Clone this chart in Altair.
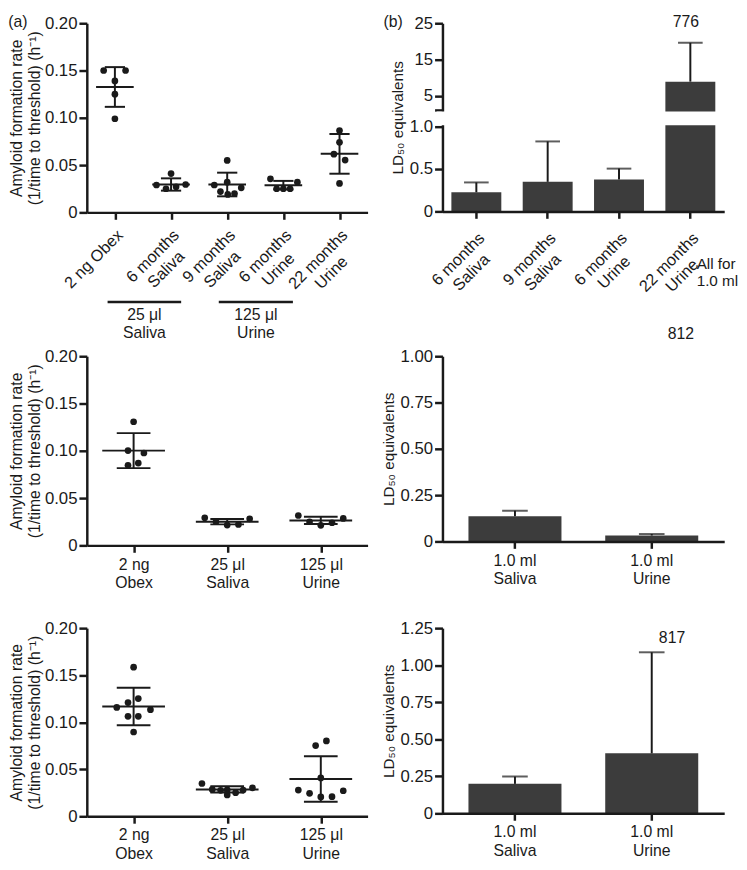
import json
import altair as alt
import pandas as pd

FONT = "Liberation Sans"
INK = "#1a1a1a"
BAR_FILL = "#3c3c3c"

RATE_TITLE = ["Amyloid formation rate", "(1/time to threshold) (h⁻¹)"]
LD_TITLE = "LD₅₀ equivalents"

# ---------------- data ----------------
# (a) row 1: amyloid formation rate per replicate
A1_GROUPS = ["2 ng Obex", "6 months|Saliva", "9 months|Saliva", "6 months|Urine", "22 months|Urine"]
A1_VALUES = [
    [0.150, 0.150, 0.139, 0.125, 0.099],
    [0.041, 0.029, 0.025, 0.027, 0.0295],
    [0.055, 0.029, 0.032, 0.026, 0.022, 0.019, 0.020],
    [0.0355, 0.032, 0.025, 0.025, 0.025],
    [0.0866, 0.0741, 0.0616, 0.0553, 0.0306],
]
A1_SPREAD = [
    [-0.20, 0.19, 0.0, 0.0, 0.0],
    [0.0, -0.26, -0.09, 0.09, 0.26],
    [0.0, -0.23, 0.0, 0.25, -0.12, 0.01, 0.13],
    [-0.23, 0.25, -0.12, 0.0, 0.12],
    [0.0, 0.0, -0.10, 0.10, 0.0],
]
A1_MEAN = [0.1326, 0.0295, 0.0295, 0.0288, 0.0619]
A1_SD = [0.0210, 0.0065, 0.0125, 0.0045, 0.0210]
A1_BRACKETS = ["25 μl\nSaliva", "125 μl\nUrine"]

# (b) row 1: LD50 equivalents (mean and upper error)
B1_GROUPS = ["6 months|Saliva", "9 months|Saliva", "6 months|Urine", "22 months|Urine"]
B1_MEAN = [0.226, 0.349, 0.377, 8.9]
B1_UPPER = [0.342, 0.826, 0.505, 19.6]

# row 2
A2_GROUPS = ["2 ng|Obex", "25 μl|Saliva", "125 μl|Urine"]
A2_VALUES = [
    [0.1307, 0.1002, 0.0977, 0.0846, 0.0870],
    [0.0291, 0.0250, 0.0215, 0.0222, 0.0281],
    [0.0316, 0.0250, 0.0212, 0.0239, 0.0285],
]
A2_SPREAD = [
    [0.0, -0.06, 0.11, -0.06, 0.05],
    [-0.24, -0.12, 0.0, 0.12, 0.24],
    [-0.24, -0.12, 0.0, 0.12, 0.24],
]
A2_MEAN = [0.1002, 0.0250, 0.0264]
A2_SD = [0.0185, 0.0028, 0.0038]

B2_GROUPS = ["1.0 ml|Saliva", "1.0 ml|Urine"]
B2_MEAN = [0.136, 0.032]
B2_UPPER = [0.166, 0.040]

# row 3
A3_GROUPS = ["2 ng|Obex", "25 μl|Saliva", "125 μl|Urine"]
A3_VALUES = [
    [0.1585, 0.1251, 0.1209, 0.1157, 0.1133, 0.1063, 0.1063, 0.0896],
    [0.0349, 0.0286, 0.0276, 0.0227, 0.0251, 0.0279, 0.0303, 0.0280],
    [0.0752, 0.0801, 0.0408, 0.0279, 0.0244, 0.0206, 0.0209, 0.0272],
]
A3_SPREAD = [
    [0.0, 0.05, -0.06, -0.18, 0.18, -0.06, 0.05, 0.0],
    [-0.27, -0.16, -0.07, 0.0, 0.09, 0.17, 0.27, 0.0],
    [-0.055, 0.06, 0.0, -0.24, -0.12, 0.0, 0.12, 0.24],
]
A3_MEAN = [0.1167, 0.0286, 0.0397]
A3_SD = [0.0200, 0.0033, 0.0242]

B3_GROUPS = ["1.0 ml|Saliva", "1.0 ml|Urine"]
B3_MEAN = [0.199, 0.405]
B3_UPPER = [0.248, 1.087]

ANIMAL_IDS = ["776", "812", "817"]

# ---------------- layout constants ----------------
W_LEFT = 285
W_RIGHT = 286
MEAN_HALF = 0.335
CAP_HALF = 0.18
BRACKET_FROM = [-0.13, 1.85]
BRACKET_TO = [1.18, 3.17]
ROT_SIZE = 16.5

ZERO_OR_2F = "datum.value == 0 ? '0' : format(datum.value, '.2f')"

# Arial / Liberation Sans advance widths (em) used to right-anchor rotated labels
CHAR_W = {" ": .278, "0": .556, "1": .556, "2": .556, "5": .556, "6": .556, "9": .556,
          "O": .778, "S": .667, "U": .722, "a": .556, "b": .556, "e": .556, "g": .556,
          "h": .556, "i": .222, "l": .222, "m": .833, "n": .556, "o": .556, "r": .333,
          "s": .5, "t": .278, "v": .5, "x": .5, "μ": .576}


def text_width(s, size):
    return sum(CHAR_W.get(c, 0.556) for c in s) * size


def text_layer(txt, x, y, size=16, align="center", baseline="middle"):
    return alt.Chart(pd.DataFrame({"t": [txt]})).mark_text(
        font=FONT, fontSize=size, color=INK, align=align, baseline=baseline,
        lineBreak="\n", lineHeight=18,
    ).encode(text="t:N", x=alt.value(x), y=alt.value(y))


def rotated_labels(groups, field, scale, y_local):
    """Category labels rotated 45°, lines centred, block ending at the tick."""
    out = []
    for i, g in enumerate(groups):
        w = max(text_width(line, ROT_SIZE) for line in g.split("|"))
        df = pd.DataFrame({"g": [g], "i": [i]})
        enc_x = alt.X("i:Q", scale=scale) if field == "i" else alt.X("g:N", scale=scale)
        out.append(alt.Chart(df).mark_text(
            font=FONT, fontSize=ROT_SIZE, color=INK, angle=315, align="center",
            baseline="top", lineBreak="|", lineHeight=19, dx=-w / 2,
        ).encode(x=enc_x, y=alt.value(y_local), text="g:N"))
    return out


def rate_panel(groups, values, spread, means, sds, view_h, plot_h, rotated,
               x_offset, brackets=False, extras=()):
    n = len(groups)
    pts = pd.DataFrame([
        {"pos": i + s, "rate": v}
        for i, (vs, ss) in enumerate(zip(values, spread))
        for v, s in zip(vs, ss)
    ])
    st = pd.DataFrame({
        "i": list(range(n)),
        "mean": means,
        "lo": [m - s for m, s in zip(means, sds)],
        "hi": [m + s for m, s in zip(means, sds)],
    })
    st["m1"] = st["i"] - MEAN_HALF
    st["m2"] = st["i"] + MEAN_HALF
    st["c1"] = st["i"] - CAP_HALF
    st["c2"] = st["i"] + CAP_HALF

    xs = alt.Scale(domain=[-0.5, n - 0.5], nice=False, zero=False)
    ys = alt.Scale(domain=[0, 0.2], range=[plot_h, 0], nice=False, zero=False)
    names = json.dumps(groups, ensure_ascii=False)
    x_axis = alt.Axis(
        title=None, values=list(range(n)),
        labelExpr=f"split({names}[datum.value], '|')", labels=not rotated,
        offset=x_offset, labelFlush=False, labelOverlap=False,
        labelAngle=0, labelAlign="center", labelBaseline="top", labelPadding=4,
    )
    y_axis = alt.Axis(
        title=RATE_TITLE, values=[0, 0.05, 0.10, 0.15, 0.20], labelExpr=ZERO_OR_2F,
        titlePadding=2, titleLineHeight=18, titleFontSize=16, labelOverlap=False,
    )
    pts_layer = alt.Chart(pts).mark_circle(size=46, color=INK, opacity=1).encode(
        x=alt.X("pos:Q", scale=xs, axis=x_axis),
        y=alt.Y("rate:Q", scale=ys, axis=y_axis),
    )
    stat = alt.Chart(st)
    rule = dict(color=INK, strokeWidth=2)
    mean_l = stat.mark_rule(**rule).encode(
        x=alt.X("m1:Q", scale=xs), x2="m2:Q",
        y=alt.Y("mean:Q", scale=ys))
    sd_l = stat.mark_rule(**rule).encode(
        x=alt.X("i:Q", scale=xs),
        y=alt.Y("lo:Q", scale=ys), y2="hi:Q")
    cap_hi = stat.mark_rule(**rule).encode(
        x=alt.X("c1:Q", scale=xs), x2="c2:Q",
        y=alt.Y("hi:Q", scale=ys))
    cap_lo = stat.mark_rule(**rule).encode(
        x=alt.X("c1:Q", scale=xs), x2="c2:Q",
        y=alt.Y("lo:Q", scale=ys))
    layers = [pts_layer, mean_l, sd_l, cap_hi, cap_lo]
    if rotated:
        layers.extend(rotated_labels(groups, "i", xs, plot_h + 15))
    if brackets:
        br = pd.DataFrame({"label": A1_BRACKETS, "x1": BRACKET_FROM, "x2": BRACKET_TO})
        br["xm"] = (br["x1"] + br["x2"]) / 2
        layers.append(alt.Chart(br).mark_rule(color=INK, strokeWidth=2.5).encode(
            x=alt.X("x1:Q", scale=xs), x2="x2:Q", y=alt.value(283)))
        layers.append(alt.Chart(br).mark_text(
            font=FONT, fontSize=16, color=INK, baseline="top", lineBreak="\n",
            lineHeight=19).encode(
            x=alt.X("xm:Q", scale=xs), y=alt.value(288), text="label:N"))
    layers.extend(extras)
    return alt.layer(*layers).properties(width=W_LEFT, height=view_h)


def ld_panel(groups, means, upper, view_h, yscale, yvalues, ylabel_expr, yformat,
             rotated, x_offset, pad_in, pad_out, cap, plot_h, gap=None, extras=()):
    df = pd.DataFrame({"g": groups, "mean": means, "upper": upper})
    xs = alt.Scale(domain=groups, paddingInner=pad_in, paddingOuter=pad_out)
    x_axis = alt.Axis(title=None, labelExpr="split(datum.label, '|')", offset=x_offset,
                      zindex=1, labelOverlap=False, labels=not rotated, labelAngle=0,
                      labelAlign="center", labelBaseline="top", labelPadding=4)
    y_axis = alt.Axis(title=LD_TITLE, values=yvalues, labelExpr=ylabel_expr, format=yformat,
                      titlePadding=4, titleFontSize=15.5, labelOverlap=False,
                      labelSeparation=0, tickCount=len(yvalues))
    bars = alt.Chart(df).mark_bar(color=BAR_FILL).encode(
        x=alt.X("g:N", scale=xs, axis=x_axis),
        y=alt.Y("mean:Q", scale=yscale, axis=y_axis),
        y2=alt.Y2Datum(0),
    )
    err = alt.Chart(df).mark_rule(color=INK, strokeWidth=2).encode(
        x=alt.X("g:N", scale=xs),
        y=alt.Y("mean:Q", scale=yscale), y2="upper:Q")
    caps = alt.Chart(df).mark_tick(color=INK, thickness=2, size=cap).encode(
        x=alt.X("g:N", scale=xs),
        y=alt.Y("upper:Q", scale=yscale))
    layers = [bars, err, caps]
    if gap is not None:
        layers.append(alt.Chart(pd.DataFrame({"k": [0]})).mark_rect(
            color="white", yOffset=-1.5, y2Offset=1.5).encode(
            x=alt.value(-6), x2=alt.value(W_RIGHT),
            y=alt.YDatum(gap[0]), y2=alt.Y2Datum(gap[1])))
    if rotated:
        layers.extend(rotated_labels(groups, "g", xs, plot_h + 19))
    layers.extend(extras)
    return alt.layer(*layers).properties(width=W_RIGHT, height=view_h)


# ---------------- panels ----------------
a1 = rate_panel(A1_GROUPS, A1_VALUES, A1_SPREAD, A1_MEAN, A1_SD, view_h=254, plot_h=192,
                rotated=True, x_offset=-62, brackets=True,
                extras=[text_layer("(a)", -70, -1)])

b1_scale = alt.Scale(domain=[0, 1, 1.1, 25], range=[191, 105, 88, 0], nice=False, zero=False)
b1 = ld_panel(B1_GROUPS, B1_MEAN, B1_UPPER, 254, b1_scale, [0, 0.5, 1, 1.1, 5, 15, 25],
              "datum.value == 1.1 ? '' : (datum.value == 1 ? '1.0' : datum.label)", ".1~f",
              True, -63, 0.3, 0.125, 25, plot_h=191, gap=(1.0, 1.1),
              extras=[text_layer("(b)", -50, -1),
                      text_layer(ANIMAL_IDS[0], 247, -1),
                      text_layer("All for\n1.0 ml", 258, 237, size=15.5, align="left", baseline="top")])

a2 = rate_panel(A2_GROUPS, A2_VALUES, A2_SPREAD, A2_MEAN, A2_SD, view_h=192, plot_h=192,
                rotated=False, x_offset=0)
b2 = ld_panel(B2_GROUPS, B2_MEAN, B2_UPPER, 188,
              alt.Scale(domain=[0, 1], nice=False, zero=False),
              [0, 0.25, 0.5, 0.75, 1.0], ZERO_OR_2F, ".2f", False, 0, 0.32, 0.19, 26,
              plot_h=188, extras=[text_layer(ANIMAL_IDS[1], 242, -22)])

a3 = rate_panel(A3_GROUPS, A3_VALUES, A3_SPREAD, A3_MEAN, A3_SD, view_h=191, plot_h=191,
                rotated=False, x_offset=0)
b3 = ld_panel(B3_GROUPS, B3_MEAN, B3_UPPER, 188,
              alt.Scale(domain=[0, 1.25], nice=False, zero=False),
              [0, 0.25, 0.5, 0.75, 1.0, 1.25], ZERO_OR_2F, ".2f", False, 0, 0.32, 0.19, 26,
              plot_h=188, extras=[text_layer(ANIMAL_IDS[2], 233, 10)])

chart = alt.concat(
    a1, b1, a2, b2, a3, b3,
    columns=2, align="each", bounds="flush",
    spacing={"row": 84, "column": 76},
).properties(
    padding=0
).configure_view(
    stroke=None
).configure_axis(
    grid=False, domainColor=INK, domainWidth=2.5, tickColor=INK, tickWidth=2.5,
    tickSize=7, labelFont=FONT, labelColor=INK, titleFont=FONT, titleColor=INK,
    titleFontWeight="normal", domainCap="butt", labelOverlap=False,
).configure_axisY(
    labelFontSize=17, tickSize=8, labelPadding=2,
).configure_axisX(
    labelFontSize=16, labelLineHeight=19, labelFlush=False,
)

chart.save("out.html", embed_options={"renderer": "svg", "actions": False})
